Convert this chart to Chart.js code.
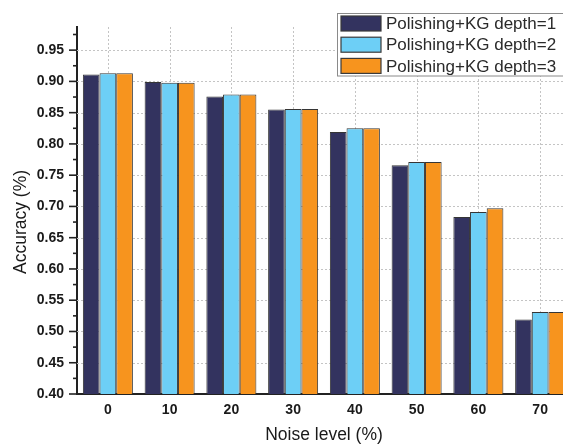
<!DOCTYPE html>
<html><head><meta charset="utf-8">
<script src="https://cdn.jsdelivr.net/npm/chart.js@4"></script>
<style>html,body{margin:0;padding:0;overflow:hidden;background:#fff}
#wrap{position:relative;width:571px;height:446px}</style>
</head><body><div id="wrap"><canvas id="c" width="571" height="446"></canvas></div>
<script>
const categories = ['0','10','20','30','40','50','60','70'];
const depth1 = [0.911,0.899,0.876,0.855,0.819,0.766,0.683,0.519];
const depth2 = [0.913,0.898,0.879,0.856,0.825,0.771,0.691,0.531];
const depth3 = [0.913,0.898,0.879,0.856,0.825,0.771,0.697,0.531];
const seriesNames = ['Polishing+KG depth=1','Polishing+KG depth=2','Polishing+KG depth=3'];
const seriesColors = ['#33335f','#6dcff6','#f7941e'];
const yMajorTicks = [0.40,0.45,0.50,0.55,0.60,0.65,0.70,0.75,0.80,0.85,0.90,0.95];
const yMinorTicks = [0.425,0.475,0.525,0.575,0.625,0.675,0.725,0.775,0.825,0.875,0.925,0.975];
const yTitle = 'Accuracy (%)';
const xTitle = 'Noise level (%)';
const FONT = "'Liberation Sans', Arial, sans-serif";

const gridPlugin = {
  id: 'grid',
  beforeDatasetsDraw(chart) {
    const {ctx, chartArea: a, scales: {x, y}} = chart;
    ctx.save();
    ctx.strokeStyle = '#c4c4c4';
    ctx.lineWidth = 1;
    ctx.setLineDash([2, 2]);
    yMajorTicks.forEach(v => {
      if (v <= 0.4) return;
      const py = Math.round(y.getPixelForValue(v)) + 0.5;
      ctx.beginPath(); ctx.moveTo(a.left, py); ctx.lineTo(a.right, py); ctx.stroke();
    });
    categories.forEach((c, i) => {
      const px = Math.round(x.getPixelForValue(i)) + 0.5;
      ctx.beginPath(); ctx.moveTo(px, a.top); ctx.lineTo(px, a.bottom); ctx.stroke();
    });
    ctx.restore();
  },
  afterDraw(chart) {
    const {ctx, chartArea: a, scales: {y}} = chart;
    ctx.save();
    ctx.strokeStyle = '#222';
    ctx.lineWidth = 1.6;
    const drawTick = (v, len) => {
      const py = y.getPixelForValue(v);
      ctx.beginPath(); ctx.moveTo(a.left, py); ctx.lineTo(a.left - len, py); ctx.stroke();
    };
    yMajorTicks.forEach(v => drawTick(v, 8));
    yMinorTicks.forEach(v => drawTick(v, 4));
    // y title
    ctx.save();
    ctx.translate(26, 222);
    ctx.rotate(-Math.PI / 2);
    ctx.font = '17.5px ' + FONT;
    ctx.fillStyle = '#1a1a1a';
    ctx.textAlign = 'center';
    ctx.textBaseline = 'alphabetic';
    ctx.fillText(yTitle, 0, 0);
    ctx.restore();
    // legend
    const bx = 337.5, by = 13.5, bw = 240, bh = 62.5;
    ctx.fillStyle = '#fff';
    ctx.fillRect(bx, by, bw, bh);
    ctx.lineWidth = 1;
    ctx.strokeStyle = '#8a8a8a';
    ctx.strokeRect(bx, by, bw, bh);
    ctx.font = '17px ' + FONT;
    ctx.textBaseline = 'middle';
    ctx.textAlign = 'left';
    seriesNames.forEach((n, i) => {
      const cy = 23.5 + i * 21.2;
      ctx.fillStyle = seriesColors[i];
      ctx.fillRect(341, cy - 7.5, 40, 15);
      ctx.strokeStyle = '#3a3a3a';
      ctx.lineWidth = 1.2;
      ctx.strokeRect(341, cy - 7.5, 40, 15);
      ctx.fillStyle = '#2a2a2a';
      ctx.fillText(n, 386, cy + 1);
    });
    ctx.restore();
  }
};

const mk = (data, i) => ({
  label: seriesNames[i], data, backgroundColor: seriesColors[i],
  borderColor: '#353535', borderWidth: 1, borderSkipped: 'start'
});

new Chart(document.getElementById('c'), {
  type: 'bar',
  data: { labels: categories, datasets: [mk(depth1,0), mk(depth2,1), mk(depth3,2)] },
  options: {
    responsive: false, animation: false,
    layout: { padding: { top: 27, left: 0, right: 0, bottom: 0 } },
    plugins: { legend: { display: false }, tooltip: { enabled: false } },
    datasets: { bar: { categoryPercentage: 0.81, barPercentage: 1 } },
    scales: {
      x: {
        z: 1,
        grid: { display: true, drawOnChartArea: false, drawTicks: false, color: 'rgba(0,0,0,0)' },
        border: { display: true, color: '#222', width: 2 },
        ticks: { padding: 8, color: '#1a1a1a', font: { family: FONT, size: 14, weight: 'bold' } },
        title: { display: true, text: xTitle, color: '#1a1a1a', padding: { top: 0, bottom: 0 },
                 font: { family: FONT, size: 17.5 } },
        afterFit(s) { s.height = 52; }
      },
      y: {
        z: 1,
        min: 0.40, max: 0.987,
        grid: { display: true, drawOnChartArea: false, drawTicks: true, tickLength: 8, color: 'rgba(0,0,0,0)' },
        border: { display: true, color: '#222', width: 2 },
        afterBuildTicks(s) { s.ticks = yMajorTicks.map(v => ({ value: v })); },
        ticks: { padding: 5, color: '#1a1a1a', font: { family: FONT, size: 14, weight: 'bold' },
                 callback: v => Number(v).toFixed(2) },
        title: { display: false },
        afterFit(s) { s.width = 77; }
      }
    }
  },
  plugins: [gridPlugin]
});
</script></body></html>
